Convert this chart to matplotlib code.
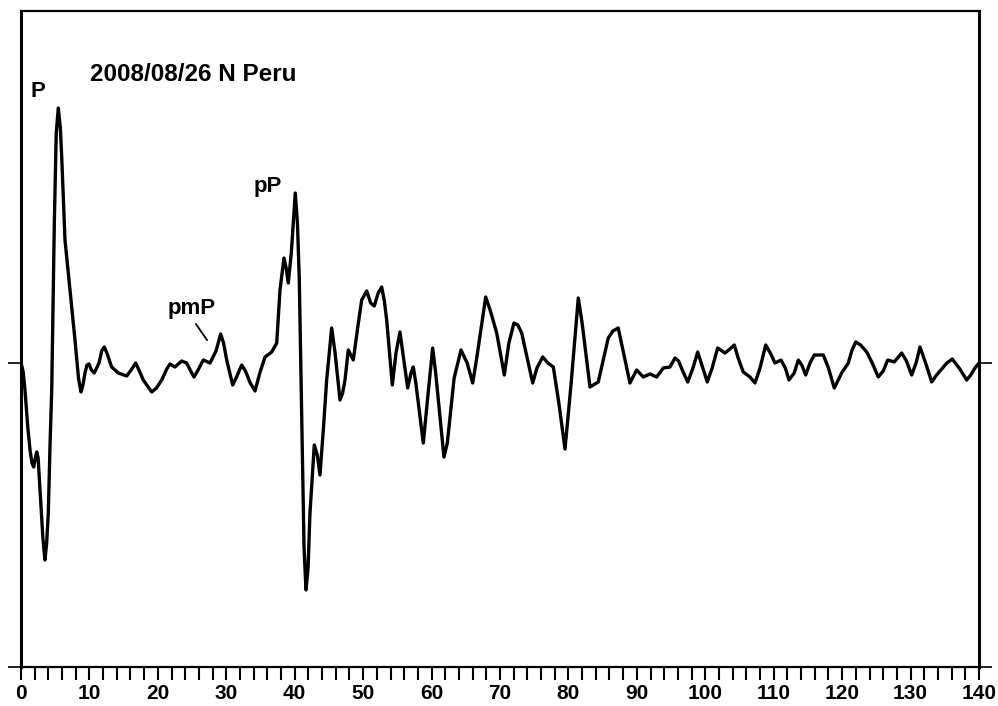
import matplotlib.pyplot as plt

# seismogram trace, 2008/08/26 N Peru (time in s, amplitude in arbitrary counts)
time = [0.0, 0.3, 0.58, 1.0, 1.32, 1.6, 1.85, 2.1, 2.3, 2.5, 2.78, 3.2, 3.5,
        3.75, 3.99, 4.25, 4.49, 4.87, 5.15, 5.45, 5.75, 5.95, 6.43, 7.16, 7.89,
        8.4, 8.77, 9.05, 9.35, 9.65, 9.94, 10.3, 10.71, 11.4, 11.8, 12.17,
        12.6, 13.25, 14.22, 15.45, 16.2, 16.76, 17.3, 17.87, 19.10, 19.8,
        20.56, 21.3, 21.77, 22.50, 23.48, 24.21, 24.8, 25.28, 25.8, 26.64,
        27.62, 28.5, 29.18, 29.6, 30.06, 30.94, 31.5, 32.25, 32.8, 33.5, 34.20,
        34.9, 35.66, 36.64, 37.37, 37.85, 38.43, 38.75, 39.06, 39.5, 40.08,
        40.4, 40.67, 41.02, 41.36, 41.65, 41.95, 42.23, 42.86, 43.3, 43.69,
        44.2, 44.67, 45.40, 45.9, 46.62, 47.0, 47.35, 47.83, 48.56, 49.3,
        49.79, 50.52, 51.1, 51.63, 52.2, 52.71, 53.1, 53.44, 54.26, 54.8,
        55.38, 55.9, 56.51, 57.0, 57.33, 57.7, 58.79, 59.5, 60.16, 60.6, 61.81,
        62.3, 63.3, 64.30, 65.2, 66.01, 66.6, 67.91, 68.6, 69.52, 70.63, 71.3,
        72.04, 72.6, 73.17, 74.78, 75.4, 76.24, 77.0, 77.79, 78.6, 79.50, 80.4,
        81.44, 82.0, 83.15, 84.36, 85.82, 86.5, 87.28, 87.9, 88.99, 89.97,
        90.94, 91.92, 92.90, 93.86, 94.84, 95.57, 96.10, 96.7, 97.43, 98.2,
        98.89, 99.5, 100.29, 101.0, 101.81, 102.88, 103.6, 104.24, 104.8,
        105.55, 106.53, 107.26, 108.0, 108.83, 109.5, 110.19, 111.06, 111.7,
        112.23, 113.0, 113.59, 114.1, 114.67, 115.3, 115.93, 117.25, 118.0,
        118.85, 119.93, 120.90, 121.4, 121.98, 122.7, 123.59, 124.4, 125.28,
        126.0, 126.66, 127.62, 128.70, 129.4, 130.16, 130.8, 131.38, 132.2,
        133.09, 133.8, 134.55, 135.3, 136.10, 137.2, 138.20, 138.8, 139.4,
        140.0]
amplitude = [0, -8, -27, -65, -87, -100, -104, -95, -89, -95, -127, -175, -197,
             -180, -150, -80, -27, 140, 230, 255, 235, 206, 123, 73, 23,
             -15, -29, -22, -10, -2, -1, -7, -10, 0, 12, 16,
             9, -4, -10, -13, -6, 0, -8, -17, -29, -25,
             -17, -6, -1, -4, 2, 0, -8, -14, -8, 3,
             0, 12, 29, 20, 3, -22, -14, -2, -8, -20, -28,
             -10, 6, 11, 20, 73, 105, 95, 80, 110, 170,
             140, 83, -50, -184, -227, -205, -150, -82, -92, -112,
             -65, -17, 35, 10, -37, -30, -17, 13, 3, 40,
             63, 72, 60, 57, 70, 76, 62, 43, -22, 10,
             31, 5, -25, -10, -4, -20, -80, -30, 15, -10, -94,
             -80, -15, 13, 0, -20, 5, 66, 52, 30, -12, 20,
             40, 38, 30, -20, -5, 6, 0, -4, -40, -86, -20,
             65, 40, -24, -19, 25, 32, 35, 15, -20, -7,
             -14, -11, -14, -5, -4, 5, 2, -8, -19, -5,
             11, -2, -19, -5, 15, 10, 14, 18, 5,
             -9, -14, -20, -5, 18, 10, 0, 3, -5,
             -17, -10, 3, -2, -12, 0, 8, 8, -5,
             -25, -10, 0, 12, 21, 18, 11, 0, -14,
             -8, 3, 1, 10, 2, -12, 0, 16, 0,
             -19, -12, -6, 0, 4, -6, -17, -12, -5,
             0]

phases = ["P", "pmP", "pP"]
phase_t = [2.5, 25.0, 36.1]
phase_amp = [271, 54, 176]

plt.rcParams['font.family'] = ['Liberation Sans', 'DejaVu Sans']

fig = plt.figure(figsize=(9.98, 7.06), dpi=100)
ax = fig.add_axes([0.02104, 0.05524, 0.95992, 0.92918])

ax.plot(time, amplitude, color="black", lw=2.4, solid_joinstyle="round",
        solid_capstyle="round")

ax.set_xlim(0, 140)
ax.set_ylim(-304, 352)

ax.set_xticks(range(0, 141, 10))
ax.set_xticks(range(0, 141, 2), minor=True)
ax.tick_params(axis="x", which="both", direction="out", length=9.5, width=1.5,
               labelsize=15, pad=3)
for lab in ax.get_xticklabels():
    lab.set_fontweight("bold")

ax.set_yticks([-304, 0])
ax.set_yticklabels([])
ax.tick_params(axis="y", which="major", direction="out", length=9.5, width=1.2,
               left=True, right=True)

for side in ["left", "right"]:
    ax.spines[side].set_linewidth(2.2)
for side in ["top", "bottom"]:
    ax.spines[side].set_linewidth(1.6)

ax.text(10.1, 288, "2008/08/26 N Peru", fontsize=17.5, fontweight="bold",
        ha="left", va="center")
for name, t, a in zip(phases, phase_t, phase_amp):
    ax.text(t, a, name, fontsize=16, fontweight="bold", ha="center", va="center")

# small pointer from pmP label to its arrival
ax.plot([25.57, 27.18], [39, 23], color="black", lw=1.3)

fig.savefig("out.png", dpi=100)
